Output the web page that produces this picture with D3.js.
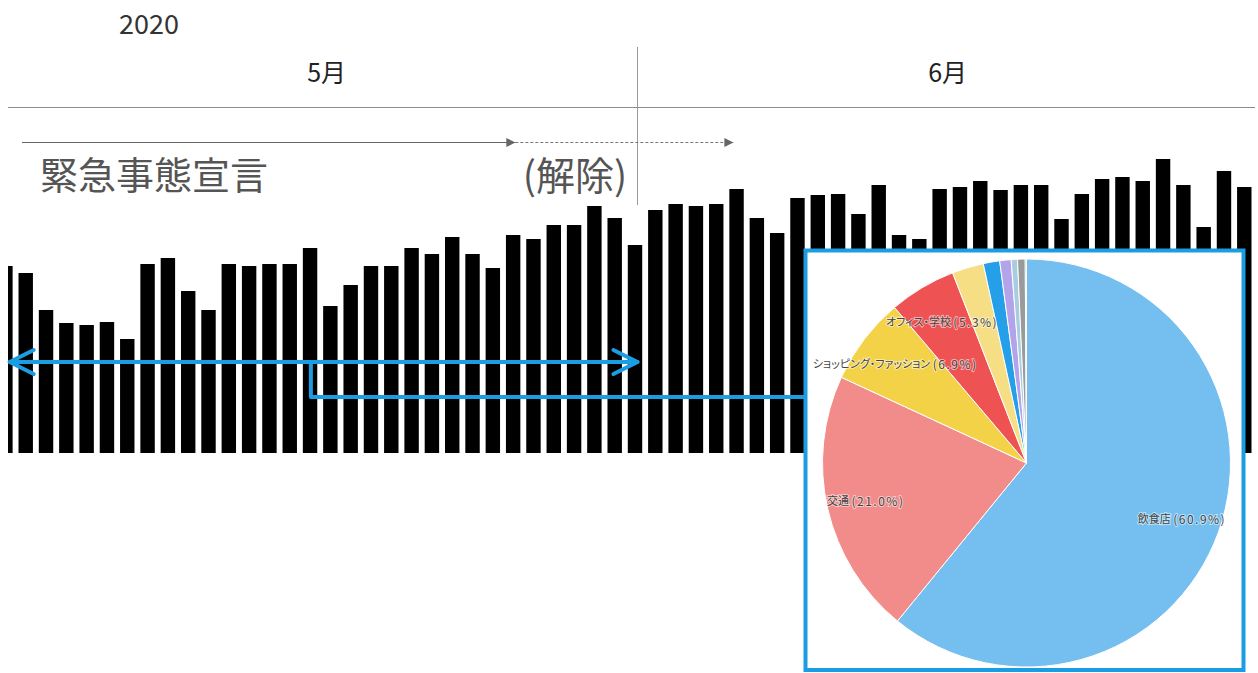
<!DOCTYPE html>
<html>
<head>
<meta charset="utf-8">
<script src="https://cdn.jsdelivr.net/npm/d3@7"></script>
<style>
  body { margin: 0; background: #fff; }
  text { font-family: "Noto Sans CJK JP", "Noto Sans", sans-serif; }
</style>
</head>
<body>
<div id="chart"></div>
<script>
const width = 1258;
const height = 673;

// daily bars, 2020-04-30 .. 2020-06-30
const firstDay = new Date(2020, 3, 30);
const lastDay = new Date(2020, 6, 1);
const days = d3.timeDay.range(firstDay, lastDay);
const dailyValues = [
  187, 180, 143, 130, 128, 131, 114, 189, 195, 162,
  143, 189, 187, 189, 189, 205, 147, 168, 187, 187,
  205, 199, 216, 199, 185, 218, 214, 228, 228, 247,
  235, 208, 243, 249, 247, 249, 264, 235, 220, 255,
  258, 259, 239, 268, 218, 214, 264, 266, 272, 263,
  268, 268, 234, 259, 274, 276, 272, 294, 268, 226,
  282, 266
];

// header
const yearLabel = "2020";
const monthStarts = [new Date(2020, 4, 1), new Date(2020, 5, 1), new Date(2020, 6, 1)];
const monthLabels = ["5月", "6月"];

// emergency declaration annotation
const declarationLabel = "緊急事態宣言";
const liftLabel = "(解除)";
const declarationDates = [new Date(2020, 4, 1, 16), new Date(2020, 4, 25, 22), new Date(2020, 5, 5, 15)];

// May period highlighted by the blue arrow
const mayRange = [new Date(2020, 4, 1, 2), new Date(2020, 4, 31, 22)];
const connectorDate = new Date(2020, 4, 15, 21);

// pie: spending breakdown
const pieLabels = ["飲食店", "交通", "ショッピング・ファッション", "オフィス・学校", "", "", "", "", "", ""];
const pieValues = [60.9, 21.0, 6.9, 5.3, 2.5, 1.3, 0.9, 0.5, 0.6, 0.1];
const pieColors = ["#74bff0", "#f28c8a", "#f3d247", "#ee5253", "#f5de84", "#259fe7", "#b2a3ea", "#a8cce0", "#9a9a9a", "#5db89e"];

const blue = "#1a9de3";

const svg = d3.select("#chart").append("svg")
  .attr("width", width)
  .attr("height", height)
  .attr("viewBox", [0, 0, width, height]);

svg.append("rect").attr("width", width).attr("height", height).attr("fill", "#fff");

// ---- header axis (months)
const xTime = d3.scaleTime()
  .domain([monthStarts[0], monthStarts[2]])
  .range([8, 1250]);

svg.append("text")
  .attr("x", 149).attr("y", 22)
  .attr("text-anchor", "middle")
  .attr("dominant-baseline", "central")
  .attr("font-size", 27)
  .attr("fill", "#333")
  .text(yearLabel);

svg.append("line")
  .attr("x1", 8).attr("x2", 1255)
  .attr("y1", 107.5).attr("y2", 107.5)
  .attr("stroke", "#8c8c8c");

svg.append("line")
  .attr("x1", Math.round(xTime(monthStarts[1])) - 1.5)
  .attr("x2", Math.round(xTime(monthStarts[1])) - 1.5)
  .attr("y1", 47).attr("y2", 205)
  .attr("stroke", "#9a9a9a");

svg.selectAll(".month")
  .data(monthLabels)
  .join("text")
  .attr("class", "month")
  .attr("x", (d, i) => (xTime(monthStarts[i]) + xTime(monthStarts[i + 1])) / 2 + 3)
  .attr("y", 71)
  .attr("text-anchor", "middle")
  .attr("dominant-baseline", "central")
  .attr("font-size", 25)
  .attr("fill", "#222")
  .text(d => d);

// ---- declaration arrows
const defs = svg.append("defs");
defs.append("marker")
  .attr("id", "tri")
  .attr("viewBox", "0 0 10 10")
  .attr("refX", 10).attr("refY", 5)
  .attr("markerUnits", "userSpaceOnUse")
  .attr("markerWidth", 12).attr("markerHeight", 9)
  .attr("orient", "auto")
  .append("path")
  .attr("d", "M0,0L10,5L0,10Z")
  .attr("fill", "#666");

svg.append("line")
  .attr("x1", 22).attr("x2", xTime(declarationDates[1]))
  .attr("y1", 142.5).attr("y2", 142.5)
  .attr("stroke", "#666").attr("stroke-width", 1.2)
  .attr("marker-end", "url(#tri)");

svg.append("line")
  .attr("x1", xTime(declarationDates[1])).attr("x2", xTime(declarationDates[2]))
  .attr("y1", 142.5).attr("y2", 142.5)
  .attr("stroke", "#777").attr("stroke-width", 1)
  .attr("stroke-dasharray", "3,2")
  .attr("marker-end", "url(#tri)");

svg.append("text")
  .attr("x", 40).attr("y", 172)
  .attr("dominant-baseline", "central")
  .attr("font-size", 38)
  .attr("fill", "#555")
  .text(declarationLabel);

svg.append("text")
  .attr("x", 575).attr("y", 173)
  .attr("text-anchor", "middle")
  .attr("dominant-baseline", "central")
  .attr("font-size", 39)
  .attr("fill", "#555")
  .text(liftLabel);

// ---- bars
const x = d3.scaleBand()
  .domain(days)
  .range([-1.8, 1251.5])
  .paddingInner(0.29)
  .paddingOuter(0);

const y = d3.scaleLinear()
  .domain([0, 300])
  .range([453, 153]);

defs.append("clipPath").attr("id", "plot")
  .append("rect").attr("x", 8).attr("y", 0).attr("width", width - 8).attr("height", height);

svg.append("g")
  .attr("clip-path", "url(#plot)")
  .selectAll("rect")
  .data(days)
  .join("rect")
  .attr("x", d => x(d))
  .attr("width", x.bandwidth())
  .attr("y", (d, i) => y(dailyValues[i]))
  .attr("height", (d, i) => y(0) - y(dailyValues[i]))
  .attr("fill", "#000");

// ---- blue arrow for May + connector
const arrowY = 362;
const x0 = xTime(mayRange[0]);
const x1 = xTime(mayRange[1]);
const blueG = svg.append("g")
  .attr("fill", "none")
  .attr("stroke", blue)
  .attr("stroke-width", 4)
  .attr("stroke-linecap", "round")
  .attr("stroke-linejoin", "round");

blueG.append("line").attr("x1", x0).attr("x2", x1).attr("y1", arrowY).attr("y2", arrowY);
blueG.append("path").attr("d", `M${x0 + 24},${arrowY - 12}L${x0},${arrowY}L${x0 + 24},${arrowY + 12}`);
blueG.append("path").attr("d", `M${x1 - 24},${arrowY - 12}L${x1},${arrowY}L${x1 - 24},${arrowY + 12}`);

const cx = xTime(connectorDate);
blueG.append("path")
  .attr("stroke-linecap", "butt")
  .attr("d", `M${cx},${arrowY}V397H806`);

// ---- pie box
const box = { x: 805.5, y: 250.5, w: 438, h: 419.5 };
svg.append("rect")
  .attr("x", box.x).attr("y", box.y)
  .attr("width", box.w).attr("height", box.h)
  .attr("fill", "#fff")
  .attr("stroke", blue)
  .attr("stroke-width", 4);

const pieCenter = [1026.5, 463];
const radius = 204;

const pie = d3.pie().sort(null).value(d => d);
const arcs = pie(pieValues);
const arc = d3.arc().innerRadius(0).outerRadius(radius);
const labelArc = d3.arc().innerRadius(165).outerRadius(165);

const pieG = svg.append("g")
  .attr("transform", `translate(${pieCenter[0]},${pieCenter[1]})`);

pieG.selectAll("path")
  .data(arcs)
  .join("path")
  .attr("d", arc)
  .attr("fill", (d, i) => pieColors[i])
  .attr("stroke", "#fff")
  .attr("stroke-width", 1);

const labels = pieG.selectAll("text")
  .data(arcs.filter((d, i) => pieLabels[i] !== ""))
  .join("text")
  .attr("transform", d => `translate(${labelArc.centroid(d)})`)
  .attr("text-anchor", "middle")
  .attr("dominant-baseline", "central")
  .attr("fill", "#444")
  .attr("stroke", "rgba(255,255,255,0.55)")
  .attr("stroke-width", 2)
  .attr("paint-order", "stroke");

labels.append("tspan")
  .attr("font-size", 11)
  .style("font-feature-settings", "'palt'")
  .text(d => pieLabels[d.index] + " ");

labels.append("tspan")
  .attr("font-size", 12)
  .attr("letter-spacing", 1.5)
  .text(d => `(${d3.format(".1f")(d.value)}%)`);
</script>
</body>
</html>
